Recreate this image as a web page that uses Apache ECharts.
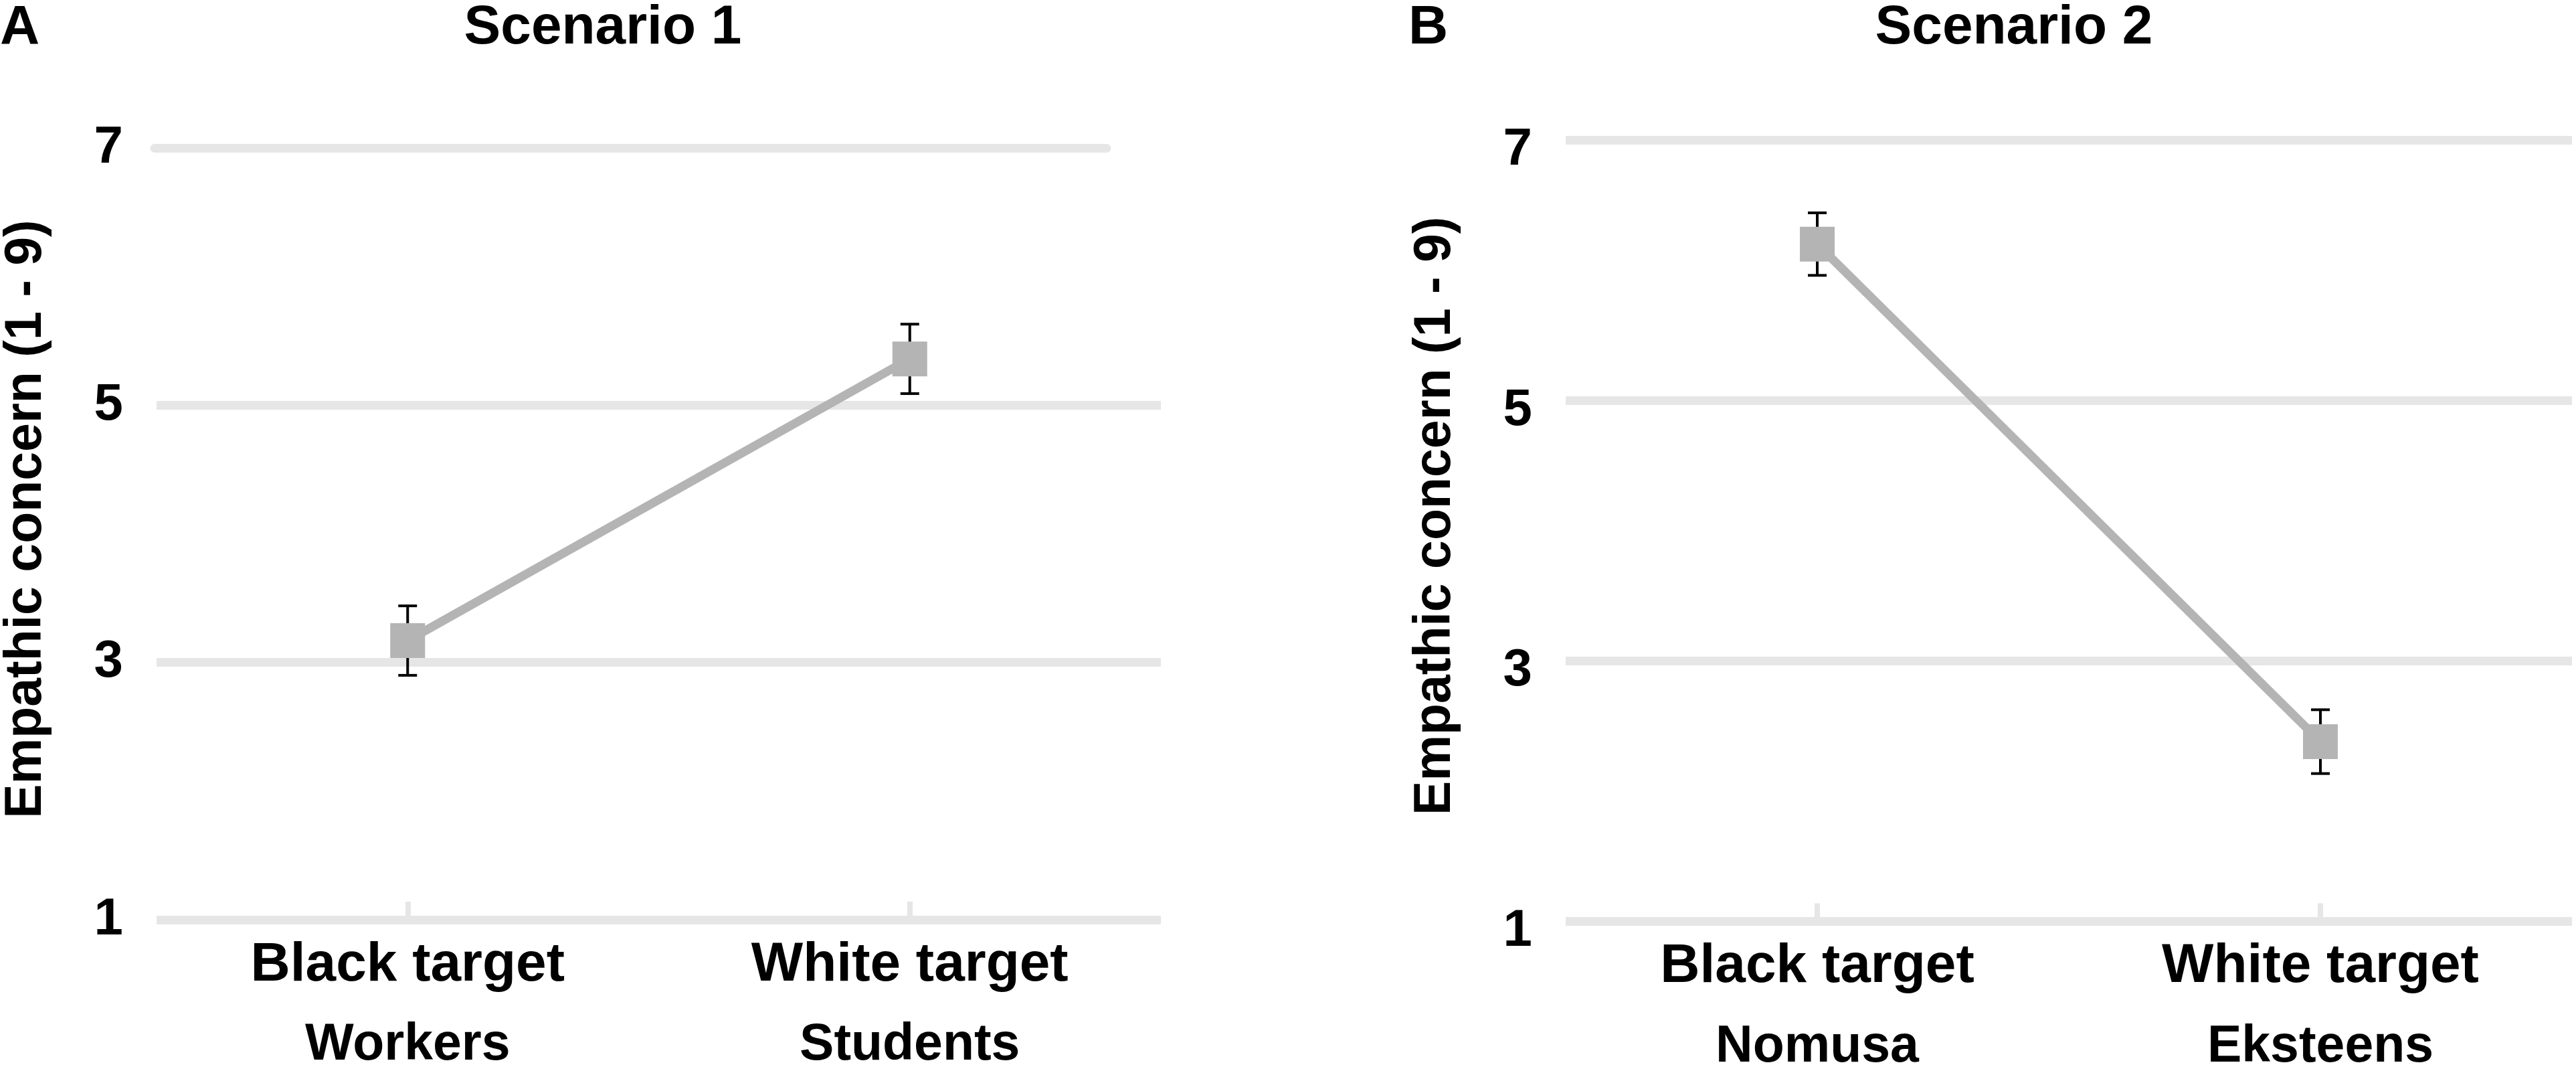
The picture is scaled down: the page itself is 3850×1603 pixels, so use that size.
<!DOCTYPE html>
<html>
<head>
<meta charset="utf-8">
<title>Empathic concern by target</title>
<script src="https://cdn.jsdelivr.net/npm/echarts@6/dist/echarts.min.js"></script>
<style>
  html, body { margin: 0; padding: 0; background: #fff; }
  #chart { width: 3850px; height: 1603px; }
</style>
</head>
<body>
<div id="chart"></div>
<script>
// data
const categories = ['Black target', 'White target'];
const subLabelsA = ['Workers', 'Students'];
const subLabelsB = ['Nomusa', 'Eksteens'];
const meansA = [3.17, 5.36];
const errA = [0.27, 0.27];
const meansB = [6.20, 2.38];
const errB = [0.24, 0.245];
const yTicks = { min: 1, max: 7, interval: 2 };
const yName = 'Empathic concern (1 - 9)';

const FONT = 'Liberation Sans, Arial, sans-serif';
const GRID_COLOR = '#e6e6e6';
const LINE_COLOR = '#b4b4b4';

// black error bars with caps
function errorBarItem(params, api) {
  const x = api.value(0);
  const lo = api.coord([x, api.value(1)]);
  const hi = api.coord([x, api.value(2)]);
  const half = 14;
  const style = { stroke: '#000', lineWidth: 4 };
  return {
    type: 'group',
    children: [
      { type: 'line', shape: { x1: lo[0], y1: lo[1], x2: hi[0], y2: hi[1] }, style },
      { type: 'line', shape: { x1: lo[0] - half, y1: lo[1], x2: lo[0] + half, y2: lo[1] }, style },
      { type: 'line', shape: { x1: hi[0] - half, y1: hi[1], x2: hi[0] + half, y2: hi[1] }, style }
    ]
  };
}

function xAxisFor(gridIndex, subLabels) {
  return {
    type: 'category',
    gridIndex: gridIndex,
    data: categories,
    boundaryGap: true,
    axisLine: { show: false },
    axisTick: {
      show: true, inside: true, alignWithLabel: true, length: 27,
      lineStyle: { color: GRID_COLOR, width: 8 }
    },
    axisLabel: {
      margin: 8,
      formatter: (v, i) => '{a|' + v + '}\n{b|' + subLabels[i] + '}',
      rich: {
        a: { fontFamily: FONT, fontWeight: 'bold', fontSize: 82, lineHeight: 120, color: '#000' },
        b: { fontFamily: FONT, fontWeight: 'bold', fontSize: 77, lineHeight: 120, color: '#000' }
      }
    }
  };
}

function yAxisFor(gridIndex, showMax, labelExtra) {
  return {
    type: 'value',
    gridIndex: gridIndex,
    min: yTicks.min,
    max: yTicks.max,
    interval: yTicks.interval,
    name: yName,
    nameLocation: 'middle',
    nameGap: 156,
    nameTextStyle: {
      fontFamily: FONT, fontWeight: 'bold', fontSize: 77, color: '#000',
      padding: [0, 0, 0, 44]
    },
    axisLine: { show: false },
    axisTick: { show: false },
    axisLabel: Object.assign({
      margin: 50,
      fontFamily: FONT, fontWeight: 'bold', fontSize: 78, color: '#000'
    }, labelExtra),
    splitLine: {
      show: true, showMaxLine: showMax,
      lineStyle: { color: GRID_COLOR, width: 13 }
    }
  };
}

function toBars(means, errs) {
  return means.map((m, i) => [i, +(m - errs[i]).toFixed(3), +(m + errs[i]).toFixed(3)]);
}

const titleStyle = { fontFamily: FONT, fontWeight: 'bold', fontSize: 82, color: '#000' };

const option = {
  animation: false,
  backgroundColor: '#fff',
  title: [
    { text: 'A', left: -5, top: -4, textStyle: titleStyle },
    { text: 'Scenario 1', left: 896, top: -4, textAlign: 'center', textStyle: titleStyle },
    { text: 'B', left: 2100, top: -4, textStyle: titleStyle },
    { text: 'Scenario 2', left: 3005, top: -4, textAlign: 'center', textStyle: titleStyle }
  ],
  grid: [
    { left: 231, right: 2115, top: 221, bottom: 229 },
    { left: 2340, right: 6, top: 209, bottom: 226 },
    // the top rule of panel A stops short of the others
    { left: 231, right: 2196, top: 221, height: 0 }
  ],
  xAxis: [
    xAxisFor(0, subLabelsA),
    xAxisFor(1, subLabelsB),
    {
      type: 'value', gridIndex: 2, position: 'top',
      axisLine: { show: true, lineStyle: { color: GRID_COLOR, width: 13 } },
      axisTick: { show: false }, axisLabel: { show: false }, splitLine: { show: false }
    }
  ],
  yAxis: [
    yAxisFor(0, false, {}),
    yAxisFor(1, true, { verticalAlign: 'top', lineHeight: 30 }),
    { type: 'value', gridIndex: 2, show: false }
  ],
  series: [
    {
      type: 'custom', xAxisIndex: 0, yAxisIndex: 0, z: 1,
      renderItem: errorBarItem, encode: { x: 0, y: [1, 2] },
      data: toBars(meansA, errA)
    },
    {
      type: 'line', xAxisIndex: 0, yAxisIndex: 0, z: 2,
      data: meansA, symbol: 'rect', symbolSize: 52,
      lineStyle: { color: LINE_COLOR, width: 13 },
      itemStyle: { color: LINE_COLOR }
    },
    {
      type: 'custom', xAxisIndex: 1, yAxisIndex: 1, z: 1,
      renderItem: errorBarItem, encode: { x: 0, y: [1, 2] },
      data: toBars(meansB, errB)
    },
    {
      type: 'line', xAxisIndex: 1, yAxisIndex: 1, z: 2,
      data: meansB, symbol: 'rect', symbolSize: 52,
      lineStyle: { color: LINE_COLOR, width: 13 },
      itemStyle: { color: LINE_COLOR }
    }
  ]
};

const chart = echarts.init(document.getElementById('chart'));
chart.setOption(option);
</script>
</body>
</html>
